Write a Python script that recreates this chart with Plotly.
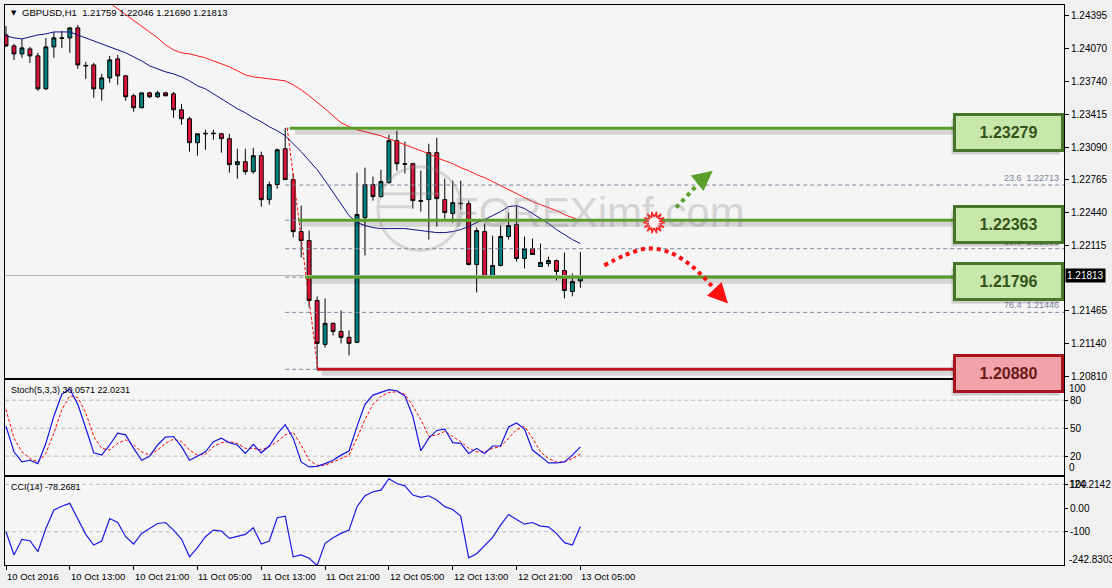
import math
import plotly.graph_objects as go

# ------------------------------------------------------------------ data
bar_index = list(range(73))
opens = [1.24206, 1.24097, 1.24018, 1.24067, 1.23998, 1.23670, 1.24087, 1.24177, 1.24177, 1.24276,
         1.23903, 1.23908, 1.23670, 1.23779, 1.23968, 1.23799, 1.23601, 1.23482, 1.23630, 1.23591,
         1.23630, 1.23621, 1.23462, 1.23372, 1.23134, 1.23228, 1.23223, 1.23223, 1.23174, 1.22916,
         1.22945, 1.22846, 1.23005, 1.22568, 1.22717, 1.23074, 1.22767, 1.22250, 1.22161, 1.21565,
         1.21128, 1.21337, 1.21257, 1.21198, 1.21148, 1.22389, 1.22717, 1.22598, 1.22737, 1.23154,
         1.22925, 1.22925, 1.22558, 1.22568, 1.23035, 1.22568, 1.22429, 1.22533, 1.22528, 1.21922,
         1.22250, 1.21803, 1.21913, 1.22201, 1.22320, 1.21982, 1.22081, 1.21903, 1.21932, 1.21962,
         1.21863, 1.21654, 1.21759]
highs = [1.24296, 1.24117, 1.24167, 1.24087, 1.24028, 1.24177, 1.24236, 1.24246, 1.24286, 1.24306,
         1.23938, 1.23928, 1.23819, 1.23998, 1.24008, 1.23809, 1.23621, 1.23630, 1.23640, 1.23650,
         1.23640, 1.23640, 1.23521, 1.23392, 1.23223, 1.23263, 1.23263, 1.23233, 1.23223, 1.23074,
         1.23074, 1.23084, 1.23045, 1.22747, 1.23074, 1.23279, 1.22826, 1.22508, 1.22260, 1.21605,
         1.21585, 1.21347, 1.21466, 1.21267, 1.22836, 1.22886, 1.22796, 1.22866, 1.23213, 1.23253,
         1.23144, 1.22935, 1.22856, 1.23124, 1.23184, 1.22776, 1.22757, 1.22757, 1.22558, 1.22290,
         1.22330, 1.22210, 1.22310, 1.22439, 1.22508, 1.22201, 1.22181, 1.22131, 1.22002, 1.21972,
         1.22042, 1.21833, 1.22046]
lows = [1.24087, 1.23958, 1.23978, 1.23928, 1.23650, 1.23660, 1.23978, 1.24077, 1.24028, 1.23869,
        1.23769, 1.23581, 1.23551, 1.23730, 1.23710, 1.23551, 1.23442, 1.23477, 1.23581, 1.23581,
        1.23596, 1.23382, 1.23313, 1.23045, 1.23005, 1.23064, 1.23164, 1.23035, 1.22836, 1.22776,
        1.22816, 1.22826, 1.22498, 1.22518, 1.22677, 1.22767, 1.22191, 1.21992, 1.21496, 1.20880,
        1.21098, 1.21217, 1.21138, 1.21019, 1.21140, 1.22012, 1.22558, 1.22588, 1.22727, 1.22856,
        1.22826, 1.22479, 1.22449, 1.22171, 1.22300, 1.22379, 1.22340, 1.22469, 1.21913, 1.21644,
        1.21793, 1.21793, 1.21903, 1.22171, 1.21952, 1.21883, 1.22022, 1.21898, 1.21903, 1.21764,
        1.21585, 1.21605, 1.21690]
closes = [1.24097, 1.24018, 1.24077, 1.23998, 1.23670, 1.24087, 1.24177, 1.24172, 1.24276, 1.23908,
          1.23899, 1.23670, 1.23779, 1.23958, 1.23799, 1.23591, 1.23482, 1.23630, 1.23591, 1.23630,
          1.23601, 1.23462, 1.23372, 1.23134, 1.23223, 1.23223, 1.23228, 1.23174, 1.22916, 1.22945,
          1.22846, 1.23005, 1.22568, 1.22717, 1.23064, 1.22767, 1.22250, 1.22161, 1.21565, 1.21138,
          1.21337, 1.21257, 1.21198, 1.21138, 1.22419, 1.22717, 1.22598, 1.22747, 1.23154, 1.22925,
          1.22920, 1.22558, 1.22553, 1.23035, 1.22578, 1.22439, 1.22538, 1.22528, 1.21922, 1.22260,
          1.21803, 1.21913, 1.22201, 1.22310, 1.21982, 1.22081, 1.22022, 1.21942, 1.21962, 1.21853,
          1.21664, 1.21754, 1.21813]
ma_blue = [1.24196, 1.24177, 1.24167, 1.24187, 1.24206, 1.24216, 1.24236, 1.24236, 1.24236, 1.24206,
           1.24177, 1.24147, 1.24117, 1.24087, 1.24057, 1.24028, 1.23988, 1.23948, 1.23899, 1.23869,
           1.23839, 1.23819, 1.23789, 1.23750, 1.23700, 1.23670, 1.23621, 1.23571, 1.23521, 1.23472,
           1.23432, 1.23382, 1.23343, 1.23293, 1.23253, 1.23203, 1.23124, 1.23045, 1.22955, 1.22866,
           1.22757, 1.22637, 1.22528, 1.22409, 1.22340, 1.22310, 1.22290, 1.22280, 1.22280, 1.22280,
           1.22280, 1.22270, 1.22260, 1.22250, 1.22240, 1.22240, 1.22250, 1.22270, 1.22300, 1.22340,
           1.22369, 1.22409, 1.22449, 1.22498, 1.22508, 1.22479, 1.22429, 1.22379, 1.22330, 1.22270,
           1.22220, 1.22171, 1.22131]
ma_red = [None] * 13 + [
           1.24524, 1.24465, 1.24405, 1.24345, 1.24286, 1.24236, 1.24177, 1.24107, 1.24057, 1.24028,
           1.24018, 1.23998, 1.23978, 1.23948, 1.23918, 1.23889, 1.23849, 1.23809, 1.23789, 1.23779,
           1.23769, 1.23760, 1.23750, 1.23710, 1.23660, 1.23601, 1.23541, 1.23472, 1.23402, 1.23333,
           1.23293, 1.23263, 1.23243, 1.23223, 1.23203, 1.23174, 1.23144, 1.23114, 1.23084, 1.23055,
           1.23025, 1.22985, 1.22955, 1.22925, 1.22886, 1.22856, 1.22816, 1.22786, 1.22747, 1.22707,
           1.22667, 1.22628, 1.22588, 1.22548, 1.22518, 1.22489, 1.22459, 1.22419, 1.22389, 1.22359]
stoch_main = [52.0, 24.7, 13.8, 15.6, 12.0, 33.8, 62.9, 86.5, 92.0, 75.6,
              50.2, 23.6, 21.1, 32.0, 44.7, 42.9, 28.4, 15.6, 20.0, 32.0,
              40.4, 41.1, 30.2, 15.6, 20.0, 24.7, 35.6, 39.3, 34.5, 32.0,
              22.9, 32.7, 23.6, 30.9, 44.0, 53.8, 39.3, 13.8, 8.4, 9.1,
              12.0, 15.6, 21.1, 25.5, 52.0, 75.6, 85.5, 88.4, 91.3, 90.2,
              84.7, 62.9, 25.8, 39.3, 47.6, 49.1, 34.5, 33.8, 22.9, 28.4,
              22.9, 30.9, 30.9, 51.3, 55.6, 49.1, 26.6, 20.0, 12.7, 12.7,
              13.8, 21.1, 30.0571]
stoch_signal = [70.2, 39.3, 24.7, 17.5, 13.8, 22.9, 44.7, 70.2, 84.7, 82.9,
                66.5, 41.1, 28.4, 26.6, 33.8, 37.5, 32.0, 24.7, 21.1, 26.6,
                33.8, 38.2, 35.6, 26.6, 21.1, 22.2, 30.2, 34.5, 35.6, 33.8,
                28.4, 28.4, 26.6, 30.2, 35.6, 42.9, 45.5, 32.0, 15.6, 10.2,
                10.2, 13.8, 17.5, 21.1, 39.3, 59.3, 75.6, 84.0, 88.4, 89.1,
                86.5, 73.8, 59.3, 41.1, 42.9, 46.5, 41.1, 35.6, 28.4, 24.7,
                24.7, 28.4, 30.2, 39.3, 48.4, 52.0, 39.3, 24.7, 17.5, 13.8,
                13.8, 17.5, 22.0231]
cci = [-100, -198, -132, -138, -184, -86, -8, 8, 20, -44,
       -111, -156, -139, -44, -61, -121, -152, -107, -86, -65,
       -61, -93, -131, -206, -167, -121, -93, -97, -128, -121,
       -111, -83, -152, -139, -41, -34, -206, -198, -212, -242.8303,
       -149, -125, -107, -93, 6, 52, 69, 76, 124.2142, 104,
       94, 55, 45, 52, 34, 6, -6, -34, -210, -193,
       -159, -124, -72, -27, -48, -68, -61, -76, -79, -107,
       -146, -156, -78.2681]
for arr in (opens, highs, lows, closes, ma_blue, ma_red, stoch_main, stoch_signal, cci):
    assert len(arr) == 73, len(arr)

time_tick_bars = [0, 8, 16, 24, 32, 40, 48, 56, 64, 72]
time_tick_labels = ["10 Oct 2016", "10 Oct 13:00", "10 Oct 21:00", "11 Oct 05:00", "11 Oct 13:00",
                    "11 Oct 21:00", "12 Oct 05:00", "12 Oct 13:00", "12 Oct 21:00", "13 Oct 05:00"]
# (the 1.21790 tick is hidden under the current-price label in the reference)
price_ticks = [1.24395, 1.24070, 1.23740, 1.23415, 1.23090, 1.22765, 1.22440, 1.22115,
               1.21465, 1.21140, 1.20810]
stoch_ticks = [20, 50, 80]
cci_ticks = [100, 0, -100]
cci_tick_text = ["100", "0.00", "-100"]

# drawn levels
res_levels = [1.23279, 1.22363, 1.21796]
res_start_bars = [35.6, 36.6, 37.5]
sup_level = 1.20880
sup_start_bar = 39.0
fib_high, fib_low = 1.23279, 1.20880
fib_high_bar, fib_low_bar = 35, 39
fib_ratios = [0.0, 23.6, 38.2, 50.0, 61.8, 76.4, 100.0]

# scenario arrows (bar index, price)
up_arrow_bars = [84.0, 87.5]
up_arrow_prices = [1.22489, 1.22786]
up_arrow_tip = (88.6, 1.22856)
down_arc_bars = [75.0, 77.5, 80.4, 82.9, 85.4, 87.25, 88.75]
down_arc_prices = [1.21913, 1.22012, 1.22081, 1.22052, 1.21942, 1.21813, 1.21684]
down_arc_tip = (90.5, 1.21535)
burst_center = (81.25, 1.22340)

# ------------------------------------------------------------------ geometry
W, H = 1112, 588
ML, MR, MT, MB = 4, 46, 4, 23
plot_w, plot_h = W - ML - MR, H - MT - MB
X_RANGE = [-0.125, 132.625]
P_RANGE = [1.20790, 1.24504]
MAIN_DOM = [0.3333, 1.0]
STO_DOM = [0.1604, 0.3298]
CCI_DOM = [0.0, 0.1569]
STO_RANGE = [-0.4, 101.4]
CCI_RANGE = [-240.5, 130.8]
px_per_bar = plot_w / (X_RANGE[1] - X_RANGE[0])
price_per_px = (P_RANGE[1] - P_RANGE[0]) / (plot_h * (MAIN_DOM[1] - MAIN_DOM[0]))


def paper_x(px):
    return (px - ML) / plot_w


def paper_y(py):
    return (H - MB - py) / plot_h


FONT = "Liberation Sans, Arial, sans-serif"
GREEN = "#5a9e2a"
RED_LINE = "#c0141e"
FIB_COL = "#7d879f"

fig = go.Figure()

# current price line
fig.add_trace(go.Scatter(x=[X_RANGE[0], X_RANGE[1]], y=[closes[-1]] * 2, mode="lines",
                         line=dict(color="#b4b4b4", width=1), hoverinfo="skip", showlegend=False))

# candles
fig.add_trace(go.Candlestick(
    x=bar_index, open=opens, high=highs, low=lows, close=closes,
    increasing=dict(line=dict(color="black", width=1), fillcolor="#008080"),
    decreasing=dict(line=dict(color="black", width=1), fillcolor="#dc143c"),
    whiskerwidth=0, showlegend=False, hoverinfo="skip"))

# moving averages
fig.add_trace(go.Scatter(x=bar_index, y=ma_blue, mode="lines", line=dict(color="#10108c", width=1),
                         hoverinfo="skip", showlegend=False))
fig.add_trace(go.Scatter(x=bar_index, y=ma_red, mode="lines", line=dict(color="#ff1a1a", width=1),
                         hoverinfo="skip", showlegend=False, connectgaps=False))

# fibonacci levels
fib_range = fib_high - fib_low
fib_values = [fib_high - r / 100.0 * fib_range for r in fib_ratios]
for v in fib_values:
    fig.add_trace(go.Scatter(x=[fib_high_bar, X_RANGE[1]], y=[v, v], mode="lines",
                             line=dict(color=FIB_COL, width=1, dash="4px,3px"),
                             hoverinfo="skip", showlegend=False))
fig.add_trace(go.Scatter(x=[fib_high_bar + 0.25, fib_low_bar + 0.1], y=[fib_high, fib_low], mode="lines",
                         line=dict(color="#ff0000", width=1, dash="3px,2px"),
                         hoverinfo="skip", showlegend=False))

# level lines with shadow
shadow_off = 4 * price_per_px
line_end = 124.0
for lv, sb in zip(res_levels, res_start_bars):
    fig.add_trace(go.Scatter(x=[sb + 0.6, line_end], y=[lv - shadow_off] * 2, mode="lines",
                             line=dict(color="rgba(0,0,0,0.13)", width=5), hoverinfo="skip", showlegend=False))
    fig.add_trace(go.Scatter(x=[sb, line_end], y=[lv, lv], mode="lines",
                             line=dict(color=GREEN, width=3), hoverinfo="skip", showlegend=False))
fig.add_trace(go.Scatter(x=[sup_start_bar + 0.6, line_end], y=[sup_level - shadow_off] * 2, mode="lines",
                         line=dict(color="rgba(0,0,0,0.13)", width=5), hoverinfo="skip", showlegend=False))
fig.add_trace(go.Scatter(x=[sup_start_bar, line_end], y=[sup_level] * 2, mode="lines",
                         line=dict(color=RED_LINE, width=3), hoverinfo="skip", showlegend=False))

# scenario arrows
fig.add_trace(go.Scatter(x=up_arrow_bars, y=up_arrow_prices, mode="lines",
                         line=dict(color="#5ca02c", width=4, dash="4px,4px"), hoverinfo="skip", showlegend=False))
fig.add_trace(go.Scatter(x=down_arc_bars, y=down_arc_prices, mode="lines", line_shape="spline",
                         line=dict(color="#ff1010", width=4, dash="4px,4px"), hoverinfo="skip", showlegend=False))

# burst
cx, cy = burst_center
bx, by = [], []
for k in range(29):
    a = 2 * math.pi * k / 28
    r = 11 if k % 2 == 0 else 5.5
    bx.append(cx + r * math.cos(a) / px_per_bar)
    by.append(cy + r * math.sin(a) * price_per_px)
fig.add_trace(go.Scatter(x=bx, y=by, mode="lines", fill="toself", fillcolor="#fff4f4",
                         line=dict(color="#ff2a2a", width=1.5), hoverinfo="skip", showlegend=False))

# stochastic
fig.add_trace(go.Scatter(x=bar_index, y=stoch_signal, xaxis="x2", yaxis="y2", mode="lines",
                         line=dict(color="#ff0000", width=1, dash="3px,2px"), hoverinfo="skip", showlegend=False))
fig.add_trace(go.Scatter(x=bar_index, y=stoch_main, xaxis="x2", yaxis="y2", mode="lines",
                         line=dict(color="#1414e6", width=1.2), hoverinfo="skip", showlegend=False))
# CCI
fig.add_trace(go.Scatter(x=bar_index, y=cci, xaxis="x3", yaxis="y3", mode="lines",
                         line=dict(color="#1a1ae6", width=1.2), hoverinfo="skip", showlegend=False))

shapes = []
for v in stoch_ticks:
    shapes.append(dict(type="line", xref="x2 domain", x0=0, x1=1, yref="y2", y0=v, y1=v,
                       line=dict(color="#bcbcbc", width=1, dash="4px,3px"), layer="below"))
for v in (100, -100):
    shapes.append(dict(type="line", xref="x3 domain", x0=0, x1=1, yref="y3", y0=v, y1=v,
                       line=dict(color="#bcbcbc", width=1, dash="4px,3px"), layer="below"))
# watermark logo
WM = "rgba(140,140,140,0.30)"
shapes.append(dict(type="circle", xref="paper", yref="paper",
                   x0=paper_x(378), x1=paper_x(462), y0=paper_y(250), y1=paper_y(166),
                   line=dict(color=WM, width=3)))
shapes.append(dict(type="line", xref="paper", yref="paper", x0=paper_x(383), x1=paper_x(440),
                   y0=paper_y(193), y1=paper_y(193), line=dict(color=WM, width=3)))
shapes.append(dict(type="line", xref="paper", yref="paper", x0=paper_x(380), x1=paper_x(412),
                   y0=paper_y(206), y1=paper_y(206), line=dict(color=WM, width=3)))

ann = []
# arrowheads
ann.append(dict(x=up_arrow_tip[0], y=up_arrow_tip[1], ax=up_arrow_bars[-1], ay=up_arrow_prices[-1],
                xref="x", yref="y", axref="x", ayref="y", showarrow=True, arrowhead=2, arrowsize=1.6,
                arrowwidth=2.5, arrowcolor="#5ca02c", text=""))
ann.append(dict(x=down_arc_tip[0], y=down_arc_tip[1], ax=down_arc_bars[-1], ay=down_arc_prices[-1],
                xref="x", yref="y", axref="x", ayref="y", showarrow=True, arrowhead=2, arrowsize=1.6,
                arrowwidth=2.5, arrowcolor="#ff1010", text=""))
# watermark text
ann.append(dict(text="FOREXimf.com", xref="paper", yref="paper", x=paper_x(600), y=paper_y(212),
                showarrow=False, font=dict(family=FONT, size=42, color="rgba(130,130,130,0.30)")))
# fib labels
for r, v in zip(fib_ratios, fib_values):
    ann.append(dict(text=f"{r:.1f}  {v:.5f}", xref="paper", yref="y", x=paper_x(1063), y=v,
                    xanchor="right", yanchor="middle", yshift=7, showarrow=False,
                    font=dict(family=FONT, size=9, color=FIB_COL)))
# level boxes
box_levels = res_levels + [sup_level]
for lv in box_levels:
    is_sup = lv == sup_level
    ann.append(dict(text="", xref="paper", yref="y", x=1.0, y=lv, xanchor="right", yanchor="middle",
                    xshift=-3, yshift=-8, width=103, height=31, borderpad=1, borderwidth=3,
                    bordercolor="rgba(0,0,0,0)", bgcolor="rgba(0,0,0,0.16)", showarrow=False))
    ann.append(dict(text=f"<b>{lv:.5f}</b>", xref="paper", yref="y", x=1.0, y=lv,
                    xanchor="right", yanchor="middle", yshift=-4, width=103, height=31,
                    borderpad=1, borderwidth=3,
                    bordercolor="#a8141e" if is_sup else "#47752a",
                    bgcolor="#f0a4aa" if is_sup else "#c8e7aa", showarrow=False,
                    font=dict(family=FONT, size=16, color="#6a1a1a" if is_sup else "#34541c")))
# current price label
ann.append(dict(text=f"{closes[-1]:.5f}", xref="paper", yref="y", x=1.0, y=closes[-1], xanchor="left",
                yanchor="middle", xshift=1, showarrow=False, bgcolor="black", borderpad=1,
                font=dict(family=FONT, size=10, color="white")))
# header texts
ann.append(dict(text="▼", xref="paper", yref="paper", x=paper_x(8), y=paper_y(12), xanchor="left",
                yanchor="middle", showarrow=False, font=dict(family="DejaVu Sans", size=7, color="black")))
ann.append(dict(text=f"GBPUSD,H1  {opens[-1]:.5f} {highs[-1]:.5f} {lows[-1]:.5f} {closes[-1]:.5f}",
                xref="paper", yref="paper", x=paper_x(19), y=paper_y(12), xanchor="left", yanchor="middle",
                showarrow=False, font=dict(family=FONT, size=9.5, color="black")))
ann.append(dict(text=f"Stoch(5,3,3) {stoch_main[-1]:.4f} {stoch_signal[-1]:.4f}", xref="paper", yref="paper",
                x=paper_x(8), y=paper_y(390), xanchor="left", yanchor="middle", showarrow=False,
                font=dict(family=FONT, size=9, color="black")))
ann.append(dict(text=f"CCI(14) {cci[-1]:.4f}", xref="paper", yref="paper",
                x=paper_x(8), y=paper_y(487), xanchor="left", yanchor="middle", showarrow=False,
                font=dict(family=FONT, size=9, color="black")))
# stoch extra axis labels
ann.append(dict(text="100", xref="paper", yref="y2", x=1.0, y=100, xanchor="left", yanchor="middle",
                xshift=3, yshift=-7, showarrow=False, font=dict(family=FONT, size=10, color="black")))
ann.append(dict(text="0", xref="paper", yref="y2", x=1.0, y=0, xanchor="left", yanchor="middle",
                xshift=3, yshift=7, showarrow=False, font=dict(family=FONT, size=10, color="black")))
# CCI extreme labels (the reference draws the max label over the "100" tick)
ann.append(dict(text=f"{max(cci):.4f}", xref="paper", yref="y3", x=1.0, y=100, xanchor="left",
                yanchor="middle", xshift=3, showarrow=False, font=dict(family=FONT, size=10, color="black")))
ann.append(dict(text=f"{min(cci):.4f}", xref="paper", yref="y3 domain", x=1.0, y=0, xanchor="left",
                yanchor="middle", xshift=3, yshift=6, showarrow=False,
                font=dict(family=FONT, size=10, color="black")))
# time labels
for b, t in zip(time_tick_bars, time_tick_labels):
    ann.append(dict(text=t, xref="x3", yref="paper", x=b, y=paper_y(577), xanchor="left", yanchor="middle",
                    xshift=-1, showarrow=False, font=dict(family=FONT, size=9.5, color="black")))

axis_common = dict(showline=True, mirror=True, linecolor="black", linewidth=1, zeroline=False,
                   showgrid=False, tickfont=dict(family=FONT, size=10, color="black"))
fig.update_layout(
    width=W, height=H, margin=dict(l=ML, r=MR, t=MT, b=MB, pad=0),
    paper_bgcolor="#f0f0f0", plot_bgcolor="#f5f5f5", showlegend=False,
    xaxis=dict(domain=[0, 1], range=X_RANGE, anchor="y", showticklabels=False, ticks="",
               rangeslider=dict(visible=False), **axis_common),
    yaxis=dict(domain=MAIN_DOM, range=P_RANGE, anchor="x", side="right", tickvals=price_ticks,
               ticktext=[f"{v:.5f}" for v in price_ticks], ticks="outside", ticklen=4, tickcolor="black",
               **axis_common),
    xaxis2=dict(domain=[0, 1], range=X_RANGE, anchor="y2", matches="x", showticklabels=False, ticks="",
                **axis_common),
    yaxis2=dict(domain=STO_DOM, range=STO_RANGE, anchor="x2", side="right", tickvals=stoch_ticks,
                ticks="outside", ticklen=3, tickcolor="black", **axis_common),
    xaxis3=dict(domain=[0, 1], range=X_RANGE, anchor="y3", matches="x", showticklabels=False,
                tickvals=time_tick_bars, ticks="outside", ticklen=4, tickcolor="black", **axis_common),
    yaxis3=dict(domain=CCI_DOM, range=CCI_RANGE, anchor="x3", side="right", tickvals=cci_ticks,
                ticktext=cci_tick_text, ticks="outside", ticklen=3, tickcolor="black", **axis_common),
    shapes=shapes, annotations=ann,
)

fig.write_html("out.html")
